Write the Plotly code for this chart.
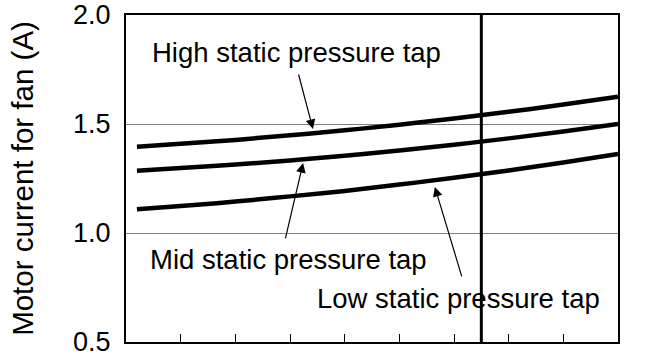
import plotly.graph_objects as go

# fan current vs. (unlabelled) x positions
x_pos = [0.2, 1, 2, 3, 4, 5, 6, 7, 8, 9]
high_tap = [1.396, 1.409, 1.427, 1.448, 1.471, 1.497, 1.525, 1.556, 1.589, 1.625]
mid_tap = [1.286, 1.298, 1.314, 1.333, 1.354, 1.378, 1.405, 1.434, 1.466, 1.500]
low_tap = [1.109, 1.124, 1.144, 1.168, 1.193, 1.222, 1.253, 1.287, 1.323, 1.362]

marker_x = [6.5, 6.5]
marker_y = [0.5, 2.0]

y_ticks = [0.5, 1.0, 1.5, 2.0]
y_labels = ["0.5", "1.0", "1.5", "2.0"]
x_ticks = [1, 2, 3, 4, 5, 6, 7, 8]

# label text, label position, arrow tip, arrow tail
labels = [
    ("High static pressure tap", 3.12, 1.83, 3.42, 1.477, 3.15, 1.734),
    ("Mid static pressure tap", 2.97, 0.88, 3.24, 1.321, 2.91, 0.968),
    ("Low static pressure tap", 6.09, 0.70, 5.65, 1.211, 6.15, 0.794),
]

FONT = "Liberation Sans, Arial, sans-serif"


def main():
    fig = go.Figure()
    for ys in (high_tap, mid_tap, low_tap):
        fig.add_trace(go.Scatter(x=x_pos, y=ys, mode="lines",
                                 line=dict(color="black", width=4.5, shape="spline"),
                                 showlegend=False, hoverinfo="skip"))
    fig.add_trace(go.Scatter(x=marker_x, y=marker_y, mode="lines",
                             line=dict(color="black", width=3),
                             showlegend=False, hoverinfo="skip"))

    for text, tx, ty, hx, hy, ax, ay in labels:
        fig.add_annotation(x=tx, y=ty, text=text, showarrow=False,
                           font=dict(size=27.5, color="black", family=FONT))
        fig.add_annotation(x=hx, y=hy, ax=ax, ay=ay, axref="x", ayref="y",
                           text="", showarrow=True, arrowhead=2,
                           arrowsize=1.6, arrowwidth=1.2, arrowcolor="black")

    fig.update_layout(
        width=650, height=360,
        margin=dict(l=126, r=32, t=15, b=18),
        paper_bgcolor="white", plot_bgcolor="white",
        font=dict(family=FONT, color="black", size=27),
        xaxis=dict(range=[0, 9], tickvals=x_ticks, showticklabels=False,
                   ticks="inside", ticklen=8, tickwidth=1, tickcolor="black",
                   showgrid=False, zeroline=False, showline=True,
                   linecolor="black", linewidth=2, mirror=True,
                   automargin=False),
        yaxis=dict(range=[0.5, 2.0], tickvals=y_ticks, ticktext=y_labels,
                   ticks="", showgrid=True, gridcolor="#808080", gridwidth=1,
                   zeroline=False, showline=True, linecolor="black",
                   linewidth=2, mirror=True, ticklabelstandoff=8,
                   automargin=False,
                   title=dict(text="Motor current for fan (A)",
                              font=dict(size=29.5), standoff=31)),
    )
    # drop the page's default body margin so the figure sits at the corner
    fig.write_html("out.html", config={"displayModeBar": False},
                   post_script="document.body.style.margin='0';")


main()
